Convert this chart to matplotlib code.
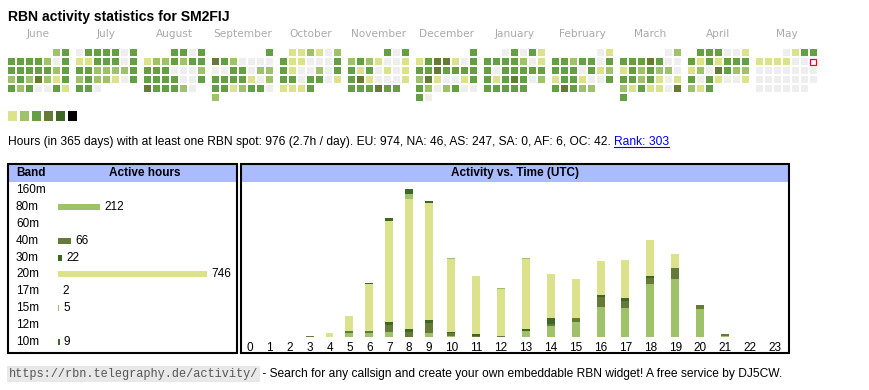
import datetime as dt
import matplotlib
matplotlib.use('Agg')
import matplotlib.pyplot as plt
from matplotlib.patches import Rectangle
import matplotlib.transforms as mtransforms
import numpy as np

plt.rcParams['font.family'] = ['Liberation Sans', 'DejaVu Sans']

# colour levels: none, then light -> dark
level_colors = ['#eeeeee', '#dce28c', '#9ec16a', '#659f44', '#667a38', '#3e6726', '#000000']

# daily activity level per month (0 = no spot)
jun_2024 = [2, 3, 3, 3, 3, 3, 2, 0, 3, 3, 3, 3, 3, 3, 2, 3, 2, 3, 2, 4, 2, 1, 3, 3, 2, 3, 0, 0, 3, 1]
jul_2024 = [0, 3, 3, 3, 3, 0, 3, 1, 1, 3, 3, 3, 0, 3, 3, 3, 2, 2, 2, 2, 3, 2, 3, 2, 2, 1, 0, 3, 3, 3, 0]
aug_2024 = [3, 3, 0, 3, 1, 2, 2, 3, 2, 3, 3, 3, 3, 3, 0, 0, 0, 2, 3, 3, 3, 3, 0, 0, 3, 4, 3, 3, 3, 2, 0]
sep_2024 = [3, 4, 3, 2, 0, 0, 0, 0, 0, 0, 3, 3, 0, 2, 2, 3, 3, 3, 3, 1, 0, 2, 3, 3, 1, 2, 3, 3, 0, 2]
oct_2024 = [1, 1, 2, 1, 0, 2, 3, 1, 1, 0, 0, 0, 3, 3, 1, 0, 0, 2, 0, 3, 3, 3, 0, 3, 3, 0, 1, 1, 1, 1, 3]
nov_2024 = [3, 0, 3, 2, 3, 2, 1, 0, 0, 1, 3, 1, 3, 0, 1, 0, 1, 3, 4, 1, 0, 0, 0, 1, 3, 3, 3, 4, 3, 3]
dec_2024 = [3, 1, 3, 4, 4, 1, 0, 3, 3, 3, 4, 3, 3, 3, 3, 2, 4, 1, 0, 0, 1, 3, 3, 2, 0, 2, 3, 0, 0, 3, 0]
jan_2025 = [0, 3, 0, 3, 1, 3, 3, 3, 3, 2, 0, 1, 3, 0, 3, 3, 3, 3, 3, 3, 1, 3, 4, 3, 0, 2, 3, 3, 3, 3, 3]
feb_2025 = [0, 1, 3, 3, 2, 3, 3, 0, 3, 3, 3, 3, 0, 3, 1, 2, 1, 3, 3, 1, 0, 0, 3, 3, 4, 3, 2, 2]
mar_2025 = [0, 2, 3, 3, 3, 4, 3, 0, 0, 1, 3, 2, 3, 2, 2, 0, 3, 3, 2, 3, 1, 0, 1, 2, 1, 3, 1, 1, 0, 4, 3]
apr_2025 = [3, 3, 3, 0, 0, 1, 3, 1, 3, 1, 3, 3, 3, 1, 2, 0, 4, 3, 2, 2, 3, 0, 3, 1, 0, 0, 1, 2, 1, 3]
may_2025 = [0, 1, 3, 3, 1, 1, 1, 1, 0, 0, 0] + [0] * 20

months = [(2024, 6), (2024, 7), (2024, 8), (2024, 9), (2024, 10), (2024, 11),
          (2024, 12), (2025, 1), (2025, 2), (2025, 3), (2025, 4), (2025, 5)]
month_names = ['June', 'July', 'August', 'September', 'October', 'November',
               'December', 'January', 'February', 'March', 'April', 'May']
month_days = [jun_2024, jul_2024, aug_2024, sep_2024, oct_2024, nov_2024,
              dec_2024, jan_2025, feb_2025, mar_2025, apr_2025, may_2025]
today = dt.date(2025, 5, 11)

# band table
bands = ['160m', '80m', '60m', '40m', '30m', '20m', '17m', '15m', '12m', '10m']
band_hours = [0, 212, 0, 66, 22, 746, 2, 5, 0, 9]
band_colors = ['#dce28c', '#9ec16a', '#659f44', '#667a38', '#3e6726',
               '#dce28c', '#9ec16a', '#9ec16a', '#667a38', '#3e6726']

# activity per UTC hour, per band
hours = list(range(24))
hr_160m = [0] * 24
hr_80m = [0, 0, 0, 0, 0, 3, 3, 4, 0, 3, 1, 0, 0, 5, 9, 13, 26, 25, 45, 50, 24, 1, 0, 0]
hr_60m = [0] * 24
hr_40m = [0, 0, 0, 1, 0, 2, 2, 6, 4, 9, 2, 1, 1, 0, 2, 3, 8, 6, 6, 9, 3, 1, 0, 0]
hr_30m = [0, 0, 0, 0, 0, 0, 0, 3, 3, 2, 1, 1, 0, 2, 5, 0, 2, 2, 1, 0, 0, 0, 0, 0]
hr_20m = [0, 0, 0, 0, 3, 13, 40, 87, 112, 101, 63, 50, 40, 60, 38, 34, 29, 33, 31, 12, 0, 0, 0, 0]
hr_17m = [0, 0, 0, 0, 0, 0, 0, 0, 0, 0, 1, 0, 0, 1, 0, 0, 0, 0, 0, 0, 0, 0, 0, 0]
hr_15m = [0, 0, 0, 0, 0, 0, 0, 0, 4, 0, 0, 0, 1, 0, 0, 0, 0, 0, 0, 0, 0, 0, 0, 0]
hr_12m = [0] * 24
hr_10m = [0, 0, 0, 0, 0, 0, 1, 2, 4, 2, 0, 0, 0, 0, 0, 0, 0, 0, 0, 0, 0, 0, 0, 0]
hour_series = [hr_160m, hr_80m, hr_60m, hr_40m, hr_30m, hr_20m, hr_17m, hr_15m, hr_12m, hr_10m]

summary = ('Hours (in 365 days) with at least one RBN spot: 976 (2.7h / day). '
           'EU: 974, NA: 46, AS: 247, SA: 0, AF: 6, OC: 42. ')
rank_text = 'Rank: 303'
url_text = 'https://rbn.telegraphy.de/activity/'
footer_text = ' - Search for any callsign and create your own embeddable RBN widget! A free service by DJ5CW.'

W, H = 870, 390
fig = plt.figure(figsize=(W / 100, H / 100), dpi=100)


def px_axes(x0, y0, x1, y1):
    return fig.add_axes([x0 / W, 1 - y1 / H, (x1 - x0) / W, (y1 - y0) / H])


# page axes in pixel units
bg = fig.add_axes([0, 0, 1, 1])
bg.set_xlim(0, W)
bg.set_ylim(H, 0)
bg.axis('off')

bg.text(8, 17, 'RBN activity statistics for SM2FIJ', fontsize=10.1, fontweight='bold', va='center')

# calendar
cell, pitch, month_w = 7, 9, 68
for mi, ((y, m), days) in enumerate(zip(months, month_days)):
    x_month = 8 + mi * month_w
    bg.text(x_month + 3 * pitch + cell / 2, 34, month_names[mi], fontsize=7.6,
            color='#aaaaaa', ha='center', va='center', family='DejaVu Sans')
    first_wd = dt.date(y, m, 1).weekday()
    for d, lvl in enumerate(days):
        k = d + first_wd
        x = x_month + (k % 7) * pitch
        yy = 49 + (k // 7) * pitch
        if dt.date(y, m, d + 1) == today:
            bg.add_patch(Rectangle((x + 0.5, yy + 0.5), cell - 1, cell - 1, facecolor='white',
                                   edgecolor='red', linewidth=0.9))
        else:
            bg.add_patch(Rectangle((x, yy), cell, cell, facecolor=level_colors[lvl], edgecolor='none'))

# colour legend
for i, c in enumerate(level_colors[1:]):
    bg.add_patch(Rectangle((8 + i * 12, 111), 9.5, 9.5, facecolor=c, edgecolor='none'))

t_sum = bg.text(8, 142, summary, fontsize=8.65, va='center')

# boxes + headers
for (x0, x1) in [(8, 237), (241, 789)]:
    bg.add_patch(Rectangle((x0, 165), x1 - x0, 16.5, facecolor='#aabbff', edgecolor='none'))
    bg.add_patch(Rectangle((x0, 164.3), x1 - x0, 188.7, facecolor='none', edgecolor='black',
                           linewidth=1.5))
bg.text(16, 173, 'Band', fontsize=8.5, fontweight='bold', va='center')
bg.text(145, 173, 'Active hours', fontsize=8.5, fontweight='bold', va='center', ha='center')
bg.text(515, 173, 'Activity vs. Time (UTC)', fontsize=8.5, fontweight='bold', va='center', ha='center')

# band table
bax = px_axes(58, 181.5, 236, 350.5)
bax.axis('off')
ypos = np.arange(len(bands))
bax.barh(ypos, band_hours, height=0.35, color=band_colors)
bax.set_xlim(0, 178 / 0.2)
bax.set_ylim(len(bands) - 0.5, -0.5)
lbl_tr = mtransforms.blended_transform_factory(bg.transData, bax.transData)
for yv, b, v in zip(ypos, bands, band_hours):
    bax.text(16, yv, b, transform=lbl_tr, fontsize=8.5, va='center')
    if v:
        bax.annotate(str(v), (v, yv), xytext=(3, 0), textcoords='offset points',
                     fontsize=8.5, va='center')

# activity vs time
col_w = np.array([3 + len(str(h)) for h in hours], dtype=float)
centers = np.cumsum(col_w) - col_w / 2
hax = px_axes(240, 182, 787, 336.7)
hax.set_facecolor('none')
for s in hax.spines.values():
    s.set_visible(False)
bottom = np.zeros(24)
for series, c in zip(hour_series, band_colors):
    vals = np.array(series, dtype=float)
    hax.bar(centers, vals, width=1.6, bottom=bottom, color=c, linewidth=0)
    bottom += vals
hax.set_xlim(0, col_w.sum())
hax.set_ylim(0, bottom.max() * 1.05)
hax.set_yticks([])
hax.set_xticks(centers, [str(h) for h in hours])
hax.tick_params(axis='x', length=0, pad=3.5, labelsize=8.5)

# link and footer, placed after measuring text
fig.canvas.draw()
r = fig.canvas.get_renderer()
inv = bg.transData.inverted()
ext = t_sum.get_window_extent(r)
x_end = inv.transform((ext.x1, ext.y0))[0]
t_rank = bg.text(x_end, 142, rank_text, fontsize=8.65, va='center', color='#0000ee')
ext = t_rank.get_window_extent(r)
(rx0, ry0), (rx1, _) = inv.transform([(ext.x0, ext.y0), (ext.x1, ext.y0)])
bg.plot([rx0, rx1], [ry0 - 1, ry0 - 1], color='#0000ee', linewidth=0.8)

t_url = bg.text(9, 374, url_text, fontsize=8.6, va='center', family='Liberation Mono',
                color='#555555', bbox=dict(boxstyle='square,pad=0.15', facecolor='#e8e8e8', edgecolor='none'))
ext = t_url.get_window_extent(r)
ux1 = inv.transform((ext.x1, ext.y0))[0]
bg.text(ux1 + 1, 374, footer_text, fontsize=8.66, va='center')

fig.savefig('out.png', dpi=100)
